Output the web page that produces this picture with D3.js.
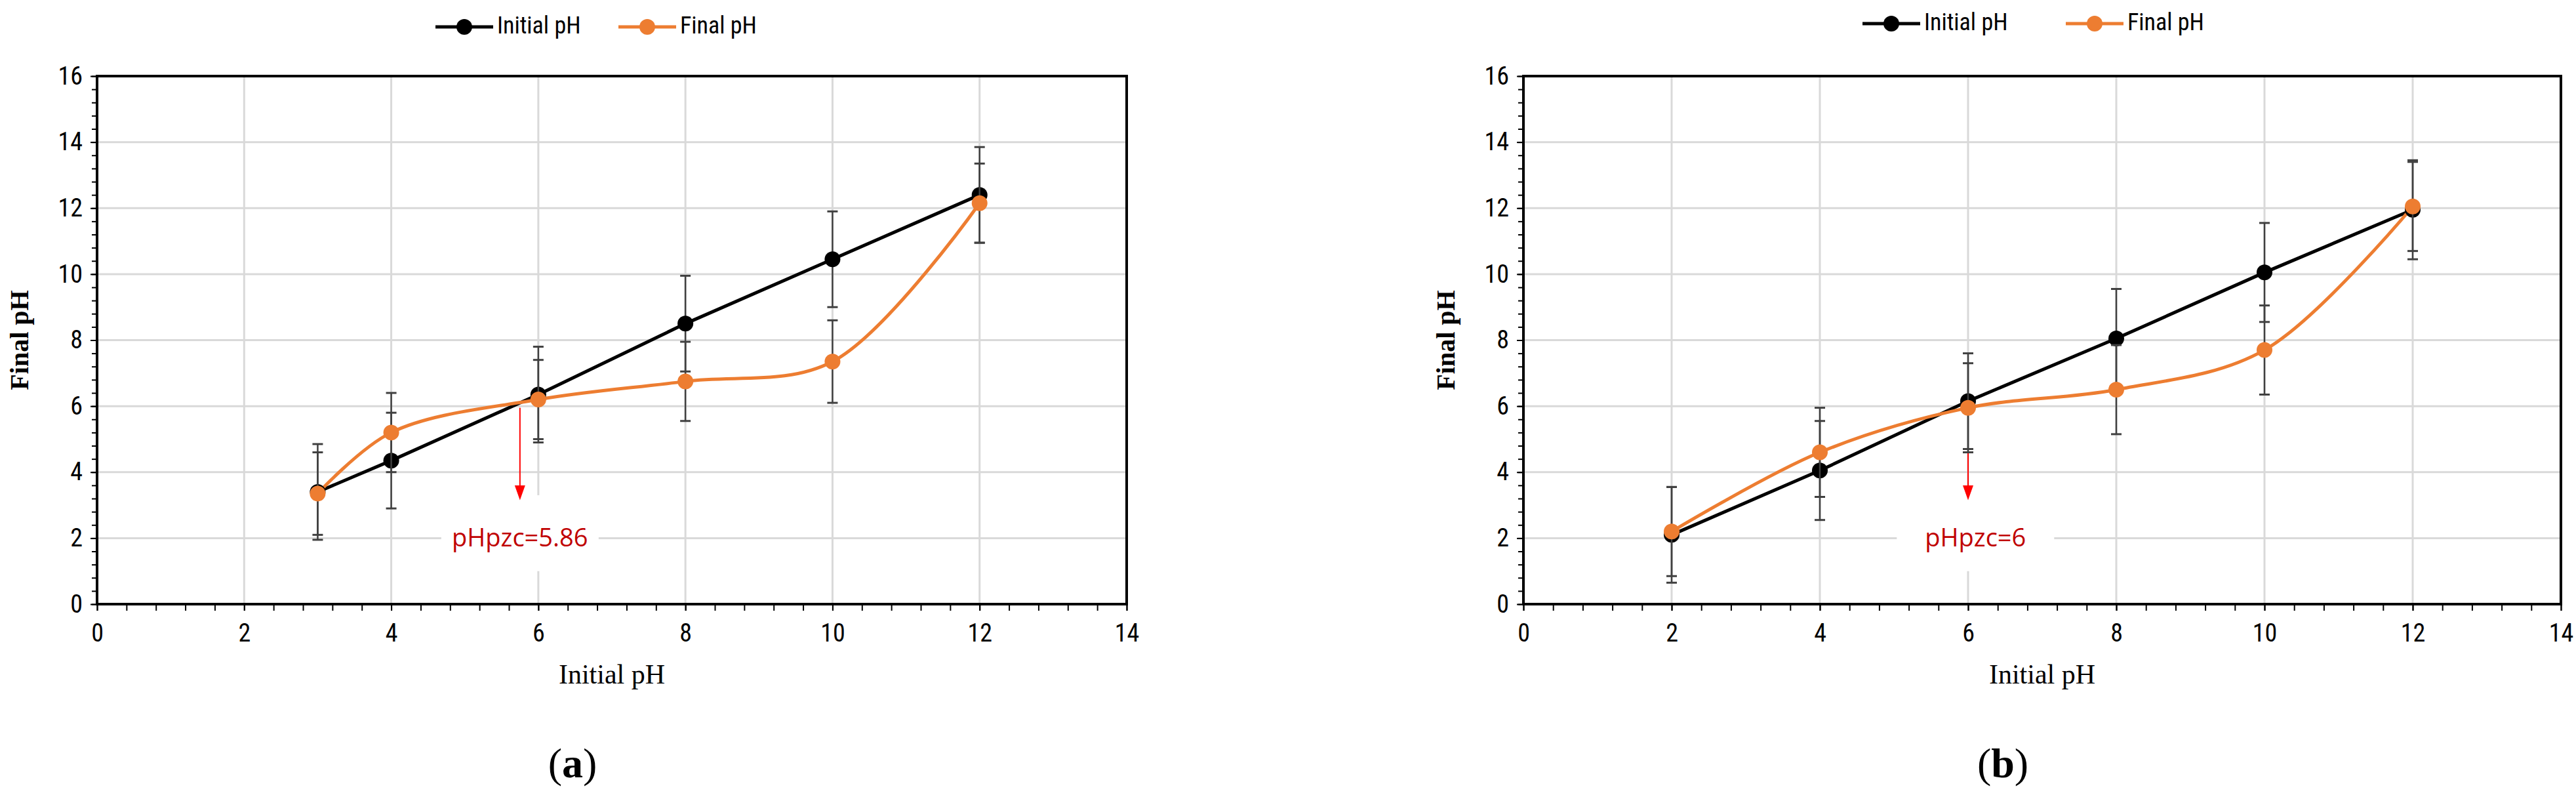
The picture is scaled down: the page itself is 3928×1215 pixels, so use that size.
<!DOCTYPE html>
<html><head><meta charset="utf-8">
<script src="https://cdn.jsdelivr.net/npm/d3@7"></script>
<style>body{margin:0;background:#fff}svg{display:block}</style>
</head><body>
<script>
// Panel (a)
const xA = [3,4,6,8,10,12];
const initA = [3.4,4.35,6.35,8.5,10.45,12.4];
const finalA = [3.35,5.2,6.2,6.75,7.35,12.15];
const errInitA = [1.45,1.45,1.45,1.45,1.45,1.45];
const errFinalA = [1.25,1.2,1.2,1.2,1.25,1.2];
// Panel (b)
const xB = [2,4,6,8,10,12];
const initB = [2.1,4.05,6.15,8.05,10.05,11.95];
const finalB = [2.2,4.6,5.95,6.5,7.7,12.05];
const errInitB = [1.45,1.5,1.45,1.5,1.5,1.5];
const errFinalB = [1.35,1.35,1.35,1.35,1.35,1.35];
const xTicks = [0,2,4,6,8,10,12,14];
const yTicks = [0,2,4,6,8,10,12,14,16];
const seriesNames = ["Initial pH","Final pH"];
const colors = ["#000000","#ED7D31"];

const W=3928,H=1215;
const svg=d3.select("body").append("svg").attr("width",W).attr("height",H);
const tickFont="'Liberation Sans Narrow','Roboto Condensed','Liberation Sans',sans-serif";
const serif="'Liberation Serif','DejaVu Serif',serif";

function panel(o){
  const g=svg.append("g");
  const x=d3.scaleLinear().domain([0,14]).range([o.x0,o.x1]);
  const y=d3.scaleLinear().domain([0,16]).range([921,116]);
  g.selectAll(".gx").data(xTicks.slice(1,-1)).join("line")
    .attr("x1",d=>x(d)).attr("x2",d=>x(d)).attr("y1",y(0)).attr("y2",y(16))
    .attr("stroke","#d9d9d9").attr("stroke-width",3);
  g.selectAll(".gy").data(yTicks.slice(1,-1)).join("line")
    .attr("x1",x(0)).attr("x2",x(14)).attr("y1",d=>y(d)).attr("y2",d=>y(d))
    .attr("stroke","#d9d9d9").attr("stroke-width",3);
  g.append("rect").attr("x",x(o.lx)-120).attr("y",y(3.3)).attr("width",240).attr("height",y(1.0)-y(3.3)).attr("fill","#fff");
  const ax=g.append("g").attr("transform",`translate(0,${y(0)})`)
    .call(d3.axisBottom(x).tickValues(d3.range(0,14.01,0.4)).tickSize(10).tickFormat(""));
  const ax2=g.append("g").attr("transform",`translate(0,${y(0)})`)
    .call(d3.axisBottom(x).tickValues(xTicks).tickSize(10).tickPadding(20));
  const ay=g.append("g").attr("transform",`translate(${x(0)},0)`)
    .call(d3.axisLeft(y).tickValues(d3.range(0,16.01,0.4)).tickSize(8).tickFormat(""));
  const ay2=g.append("g").attr("transform",`translate(${x(0)},0)`)
    .call(d3.axisLeft(y).tickValues(yTicks).tickSize(10).tickPadding(12));
  [ax,ax2,ay,ay2].forEach(a=>{a.select(".domain").remove();a.selectAll("line").attr("stroke","#000").attr("stroke-width",2);
    a.selectAll("text").attr("font-family",tickFont).attr("font-size",38).attr("fill","#000");});
  g.append("rect").attr("x",x(0)).attr("y",y(16)).attr("width",x(14)-x(0)).attr("height",y(0)-y(16))
    .attr("fill","none").attr("stroke","#000").attr("stroke-width",4);
  g.append("line").attr("x1",x(o.ax)).attr("x2",x(o.ax)).attr("y1",y(o.ay)).attr("y2",y(3.55))
    .attr("stroke","red").attr("stroke-width",2);
  g.append("path").attr("d",`M${x(o.ax)-8},${y(3.6)}L${x(o.ax)+8},${y(3.6)}L${x(o.ax)},${y(3.15)}Z`).attr("fill","red");
  g.append("text").attr("x",x(o.lx)).attr("y",y(1.95)).attr("text-anchor","middle").attr("dominant-baseline","middle")
    .attr("font-family","'Open Sans','Liberation Sans',sans-serif").attr("font-size",38).attr("fill","#C00000").text(o.label);
  const sets=[[o.init,o.ei,d3.curveLinear],[o.fin,o.ef,d3.curveCatmullRom.alpha(0.5)]];
  sets.forEach(([vals,errs,curve],i)=>{
    const pts=o.xs.map((d,j)=>[d,vals[j],errs[j]]);
    g.append("path").datum(pts).attr("fill","none").attr("stroke",colors[i]).attr("stroke-width",5)
      .attr("d",d3.line().x(d=>x(d[0])).y(d=>y(d[1])).curve(curve));
  });
  sets.forEach(([vals,errs],i)=>{
    const pts=o.xs.map((d,j)=>[d,vals[j],errs[j]]);
    const eg=g.append("g");
    pts.forEach(p=>{
      eg.append("line").attr("x1",x(p[0])).attr("x2",x(p[0])).attr("y1",y(p[1]-p[2])).attr("y2",y(p[1]+p[2])).attr("stroke","#404040").attr("stroke-width",2.5);
      [p[1]-p[2],p[1]+p[2]].forEach(v=>eg.append("line").attr("x1",x(p[0])-8).attr("x2",x(p[0])+8).attr("y1",y(v)).attr("y2",y(v)).attr("stroke","#404040").attr("stroke-width",3));
    });
    g.selectAll(null).data(pts).join("circle").attr("cx",d=>x(d[0])).attr("cy",d=>y(d[1])).attr("r",12).attr("fill",colors[i]);
  });
  g.append("text").attr("x",(x(0)+x(14))/2).attr("y",1042).attr("text-anchor","middle")
    .attr("font-family",serif).attr("font-size",42).text("Initial pH");
  g.append("text").attr("transform",`translate(${o.x0-105},${y(8)}) rotate(-90)`).attr("text-anchor","middle")
    .attr("font-family",serif).attr("font-weight","bold").attr("font-size",40).text("Final pH");
  g.append("text").attr("x",(x(0)+x(14))/2-60).attr("y",1185).attr("text-anchor","middle")
    .attr("font-family",serif).attr("font-size",64).html(`(<tspan font-weight="bold">${o.tag}</tspan>)`);
  const lg=g.append("g");
  o.leg.forEach((lx,i)=>{
    lg.append("line").attr("x1",lx).attr("x2",lx+88).attr("y1",o.ly).attr("y2",o.ly).attr("stroke",colors[i]).attr("stroke-width",5);
    lg.append("circle").attr("cx",lx+44).attr("cy",o.ly).attr("r",12).attr("fill",colors[i]);
    lg.append("text").attr("x",lx+94).attr("y",o.ly).attr("dominant-baseline","middle")
      .attr("font-family",tickFont).attr("font-size",36).text(seriesNames[i]);
  });
}
panel({x0:148,x1:1718,xs:xA,init:initA,fin:finalA,ei:errInitA,ef:errFinalA,ax:5.75,ay:5.95,lx:5.75,label:"pHpzc=5.86",tag:"a",leg:[664,943],ly:41});
panel({x0:2323,x1:3905,xs:xB,init:initB,fin:finalB,ei:errInitB,ef:errFinalB,ax:6.0,ay:5.8,lx:6.1,label:"pHpzc=6",tag:"b",leg:[2840,3150],ly:36});
</script>
</body></html>
